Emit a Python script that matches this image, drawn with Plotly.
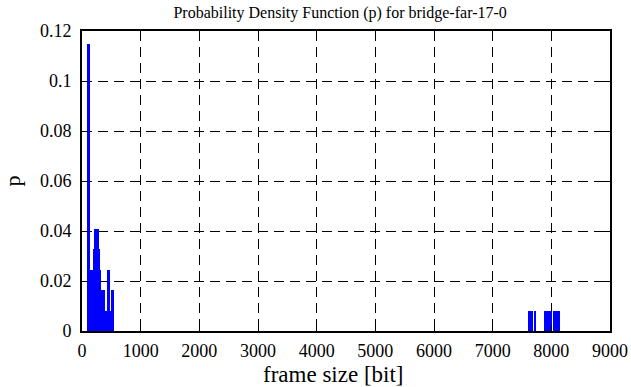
import plotly.graph_objects as go

# frame size [bit] (bin centres) and probability p
frame_size = [94, 111, 128, 145, 162, 179, 196, 213, 230, 247, 264, 281, 298,
              315, 332, 350, 367, 384, 401, 418, 435, 452, 469, 486, 503, 520,
              7611, 7628, 7645, 7662, 7679, 7713, 7730,
              7884, 7901, 7918, 7935, 7969, 7986,
              8040, 8057, 8074, 8091, 8108, 8125]
prob = [0.1148, 0.1148, 0.0246, 0.0246, 0.0246, 0.0246, 0.0328, 0.0410, 0.0410,
        0.0164, 0.0410, 0.0410, 0.0328, 0.0246, 0.0164, 0.0164, 0.0164, 0.0082,
        0.0082, 0.0082, 0.0246, 0.0246, 0.0082, 0.0082, 0.0164, 0.0164,
        0.0082, 0.0082, 0.0082, 0.0082, 0.0082, 0.0082, 0.0082,
        0.0082, 0.0082, 0.0082, 0.0082, 0.0082, 0.0082,
        0.0082, 0.0082, 0.0082, 0.0082, 0.0082, 0.0082]
bin_width = 17

x_ticks = [0, 1000, 2000, 3000, 4000, 5000, 6000, 7000, 8000, 9000]
y_ticks = [0, 0.02, 0.04, 0.06, 0.08, 0.1, 0.12]
y_tick_labels = ["0", "0.02", "0.04", "0.06", "0.08", "0.1", "0.12"]

FONT = "Liberation Serif"

fig = go.Figure()
fig.add_trace(go.Bar(
    x=frame_size, y=prob, width=bin_width,
    marker=dict(color="#0000ff", line=dict(width=0)),
    showlegend=False,
))

axis_common = dict(
    showline=True, linecolor="black", linewidth=2, mirror="allticks",
    ticks="inside", ticklen=6, tickwidth=1, tickcolor="black",
    showgrid=True, gridcolor="black", gridwidth=1, griddash="10px,6px",
    zeroline=False, automargin=False,
    tickfont=dict(family=FONT, size=18, color="black"),
)

fig.update_xaxes(
    range=[0, 9000], tickvals=x_ticks, ticktext=[str(v) for v in x_ticks],
    ticklabelstandoff=2,
    **axis_common,
)
fig.update_yaxes(
    range=[0, 0.12], tickvals=y_ticks, ticktext=y_tick_labels,
    ticklabelstandoff=5,
    title=dict(text="p", font=dict(family=FONT, size=22, color="black"), standoff=26),
    **axis_common,
)

fig.add_annotation(
    text="frame size [bit]", showarrow=False,
    xref="paper", x=0.475, xanchor="center",
    yref="paper", y=-0.145, yanchor="middle",
    font=dict(family=FONT, size=23, color="black"),
)

fig.update_layout(
    width=631, height=387,
    margin=dict(l=82, r=21, t=31, b=56, autoexpand=False),
    paper_bgcolor="white", plot_bgcolor="white",
    bargap=0,
    title=dict(text="Probability Density Function (p) for bridge-far-17-0",
               font=dict(family=FONT, size=16, color="black"),
               x=0.539, xanchor="center", xref="container",
               y=0.969, yanchor="middle", yref="container"),
)

fig.write_html("out.html", config={"displayModeBar": False},
               post_script="document.body.style.margin='0px';document.body.style.padding='0px';")
